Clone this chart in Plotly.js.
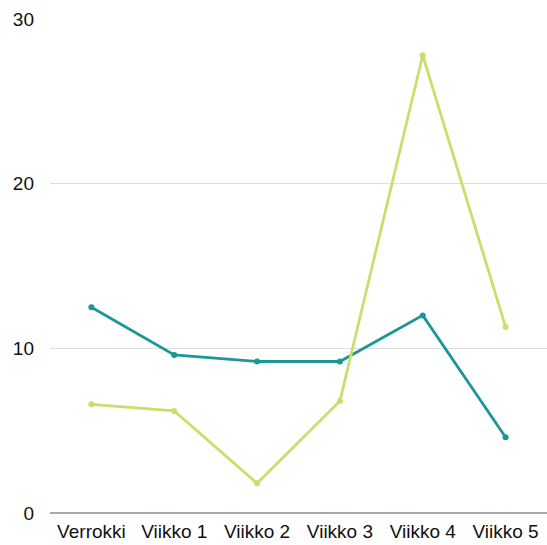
<!DOCTYPE html>
<html>
<head>
<meta charset="utf-8">
<script src="https://cdn.plot.ly/plotly-3.0.1.min.js"></script>
<style>
  html, body { margin: 0; padding: 0; background: #fff; }
  #chart { width: 547px; height: 545px; }
</style>
</head>
<body>
<div id="chart"></div>
<script>
// Weekly measurements compared with the control group
const categories = ["Verrokki", "Viikko 1", "Viikko 2", "Viikko 3", "Viikko 4", "Viikko 5"];
const tealValues = [12.5, 9.6, 9.2, 9.2, 12.0, 4.6];
const greenValues = [6.6, 6.2, 1.8, 6.8, 27.8, 11.3];
const yTicks = [0, 10, 20, 30];

const traces = [
  {
    x: categories, y: tealValues, type: "scatter", mode: "lines+markers",
    line: { color: "#1c9696", width: 2.8 },
    marker: { color: "#1c9696", size: 6 },
    hoverinfo: "x+y"
  },
  {
    x: categories, y: greenValues, type: "scatter", mode: "lines+markers",
    line: { color: "#c8df6e", width: 2.8 },
    marker: { color: "#c8df6e", size: 6 },
    hoverinfo: "x+y"
  }
];

const layout = {
  width: 547, height: 545,
  margin: { l: 50, r: 0, t: 19, b: 31.5 },
  paper_bgcolor: "#ffffff", plot_bgcolor: "#ffffff",
  showlegend: false,
  font: { family: "Liberation Sans, Arial, sans-serif", size: 19, color: "#111" },
  xaxis: {
    type: "category",
    range: [-0.5, categories.length - 0.5],
    showgrid: false, showline: false, zeroline: false,
    ticks: "", tickfont: { size: 19, color: "#111" },
    ticklabelstandoff: 5,
    fixedrange: true
  },
  yaxis: {
    range: [0, 30],
    tickvals: yTicks, ticktext: yTicks.map(String),
    showgrid: true, gridcolor: "#dedede", gridwidth: 1,
    zeroline: true, zerolinecolor: "#a8a8a8", zerolinewidth: 1.5,
    showline: false, ticks: "",
    ticklabelstandoff: 15,
    tickfont: { size: 19, color: "#111" },
    fixedrange: true
  }
};

Plotly.newPlot("chart", traces, layout, { displayModeBar: false, staticPlot: true });
</script>
</body>
</html>
